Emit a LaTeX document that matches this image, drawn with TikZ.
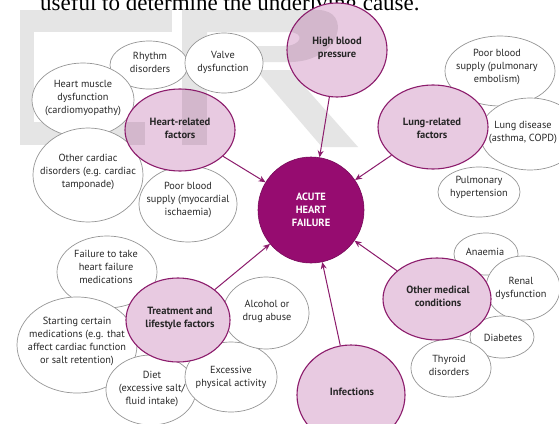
\documentclass[tikz,border=0pt]{standalone}
\usepackage{fontspec}
\setmainfont{PT Sans}
\newfontfamily\serifx{Liberation Serif}
\usetikzlibrary{arrows.meta,shapes.geometric}
\definecolor{plum}{RGB}{150,12,112}
\definecolor{lightplum}{RGB}{232,202,225}
\definecolor{edgeplum}{RGB}{140,28,108}
\definecolor{greyedge}{RGB}{150,150,150}
\definecolor{txt}{RGB}{40,40,40}
\newcommand{\wmshapes}[1]{%
  \fill[#1] (20,10) rectangle (172,32);
  \fill[#1] (20,10) rectangle (34,145);
  \fill[#1] (20,122) rectangle (145,145);
  \fill[#1] (182,10) rectangle (207,145);
  \fill[#1,even odd rule] (207,10) -- (318,10) .. controls (352,10) and (342,60) .. (292,62) -- (207,62) -- cycle
     (207,32) -- (288,32) .. controls (306,32) and (302,46) .. (284,46) -- (207,46) -- cycle;
  \fill[#1] (256,70) -- (290,70) -- (358,147) -- (322,147) -- cycle;
}
\begin{document}
\begin{tikzpicture}[x=1pt,y=-1pt,
  whiteell/.style={ellipse,draw=greyedge,line width=0.7pt,fill=white,inner sep=0pt},
  plumell/.style={ellipse,draw=edgeplum,line width=1.1pt,fill=lightplum,inner sep=0pt},
  wtext/.style={align=center,font=\fontsize{10.3}{13}\selectfont,text=txt,inner sep=0pt},
  ptext/.style={align=center,font=\fontsize{10.5}{13.2}\selectfont\bfseries,text=black!85,inner sep=0pt},
  causearrow/.style={draw=edgeplum,line width=1pt,-{Stealth[length=7pt,width=6pt]}}]
\useasboundingbox (0,0) rectangle (559,423);
\fill[white] (0,0) rectangle (559,423);
% faint watermark letters
\wmshapes{black!10}
% cut-off sentence at the top
\node[anchor=base west,inner sep=0pt,font=\serifx\fontsize{23}{25}\selectfont] (toptext) at (40,10) {useful to determine the underlying cause.};
% white ellipses
\node[whiteell,minimum width=78pt,minimum height=48pt] (rhythm) at (149,65) {};
\node[whiteell,minimum width=78pt,minimum height=60pt] (valve) at (224,63) {};
\node[whiteell,minimum width=102pt,minimum height=74pt] (hmuscle) at (83,100) {};
\node[whiteell,minimum width=110pt,minimum height=94pt] (ocardiac) at (88,175) {};
\node[whiteell,minimum width=98pt,minimum height=76pt] (pbmyo) at (188,204) {};
\node[whiteell,minimum width=100pt,minimum height=72pt] (fail) at (107,272) {};
\node[whiteell,minimum width=120pt,minimum height=96pt] (start) at (77,345) {};
\node[whiteell,minimum width=90pt,minimum height=70pt] (diet) at (151,390) {};
\node[whiteell,minimum width=92pt,minimum height=70pt] (excess) at (231,377) {};
\node[whiteell,minimum width=86pt,minimum height=72pt] (alcohol) at (266,313) {};
\node[whiteell,minimum width=110pt,minimum height=70pt] (pbpul) at (500,71) {};
\node[whiteell,minimum width=100pt,minimum height=72pt] (lungd) at (530,134) {};
\node[whiteell,minimum width=82pt,minimum height=50pt] (pulhyp) at (479,192) {};
\node[whiteell,minimum width=64pt,minimum height=42pt] (anaemia) at (486,254) {};
\node[whiteell,minimum width=74pt,minimum height=64pt] (renal) at (523,288) {};
\node[whiteell,minimum width=64pt,minimum height=42pt] (diabetes) at (502,337) {};
\node[whiteell,minimum width=80pt,minimum height=58pt] (thyroid) at (451,368) {};
% texts of white ellipses
\node[wtext] (rhythm-t) at (150,62) {Rhythm\\disorders};
\node[wtext] (valve-t) at (223,62) {Valve\\dysfunction};
\node[wtext] (hmuscle-t) at (83,98) {Heart muscle\\dysfunction\\(cardiomyopathy)};
\node[wtext] (ocardiac-t) at (88,172) {Other cardiac\\disorders (e.g. cardiac\\tamponade)};
\node[wtext] (pbmyo-t) at (188,200) {Poor blood\\supply (myocardial\\ischaemia)};
\node[wtext] (fail-t) at (106,267) {Failure to take\\heart failure\\medications};
\node[wtext] (start-t) at (77,341) {Starting certain\\medications (e.g. that\\affect cardiac function\\or salt retention)};
\node[wtext] (diet-t) at (152,389) {Diet\\(excessive salt/\\fluid intake)};
\node[wtext] (excess-t) at (231,377.5) {Excessive\\physical activity};
\node[wtext] (alcohol-t) at (267,311.5) {Alcohol or\\drug abuse};
\node[wtext] (pbpul-t) at (497,67) {Poor blood\\supply (pulmonary\\embolism)};
\node[wtext] (lungd-t) at (523,132.5) {Lung disease\\(asthma, COPD)};
\node[wtext] (pulhyp-t) at (479,187.5) {Pulmonary\\hypertension};
\node[wtext] (anaemia-t) at (485,252) {Anaemia};
\node[wtext] (renal-t) at (521,288.5) {Renal\\dysfunction};
\node[wtext] (diabetes-t) at (503,338) {Diabetes};
\node[wtext] (thyroid-t) at (449,365.5) {Thyroid\\disorders};
% purple ellipses
\node[plumell,minimum width=100pt,minimum height=94pt] (hbp) at (337,50) {};
\node[plumell,minimum width=110pt,minimum height=82pt] (heart) at (180,130) {};
\node[plumell,minimum width=110pt,minimum height=84pt] (lung) at (433,127) {};
\node[plumell,minimum width=108pt,minimum height=82pt] (other) at (437,299) {};
\node[plumell,minimum width=108pt,minimum height=100pt] (infect) at (351,395) {};
\node[plumell,minimum width=104pt,minimum height=84pt] (treat) at (178,320) {};
% watermark showing through the two upper purple ellipses
\begin{scope}
  \clip (hbp.center) ellipse [x radius=49.5pt, y radius=46.5pt]
        (heart.center) ellipse [x radius=54.5pt, y radius=40.5pt];
  \wmshapes{black,opacity=0.09}
\end{scope}
\node[ptext] (hbp-t) at (337,48) {High blood\\pressure};
\node[ptext] (heart-t) at (180,128.5) {Heart-related\\factors};
\node[ptext] (lung-t) at (432,128.5) {Lung-related\\factors};
\node[ptext] (other-t) at (438,296.5) {Other medical\\conditions};
\node[ptext] (infect-t) at (352,392) {Infections};
\node[ptext] (treat-t) at (180,318.5) {Treatment and\\lifestyle factors};
% centre
\node[circle,fill=plum,draw=plum!80!black,line width=0.6pt,minimum size=106pt,inner sep=0pt] (ahf) at (311,210) {};
\node[align=center,font=\fontsize{10.5}{13}\selectfont\bfseries,text=white,inner sep=0pt] (ahf-t) at (311,210) {ACUTE\\HEART\\FAILURE};
% connectors
\draw[causearrow] (hbp) -- (ahf);
\draw[causearrow] (heart) -- (ahf);
\draw[causearrow] (lung) -- (ahf);
\draw[causearrow] (other) -- (ahf);
\draw[causearrow] (infect) -- (ahf);
\draw[causearrow] (treat) -- (ahf);
\end{tikzpicture}
\end{document}
